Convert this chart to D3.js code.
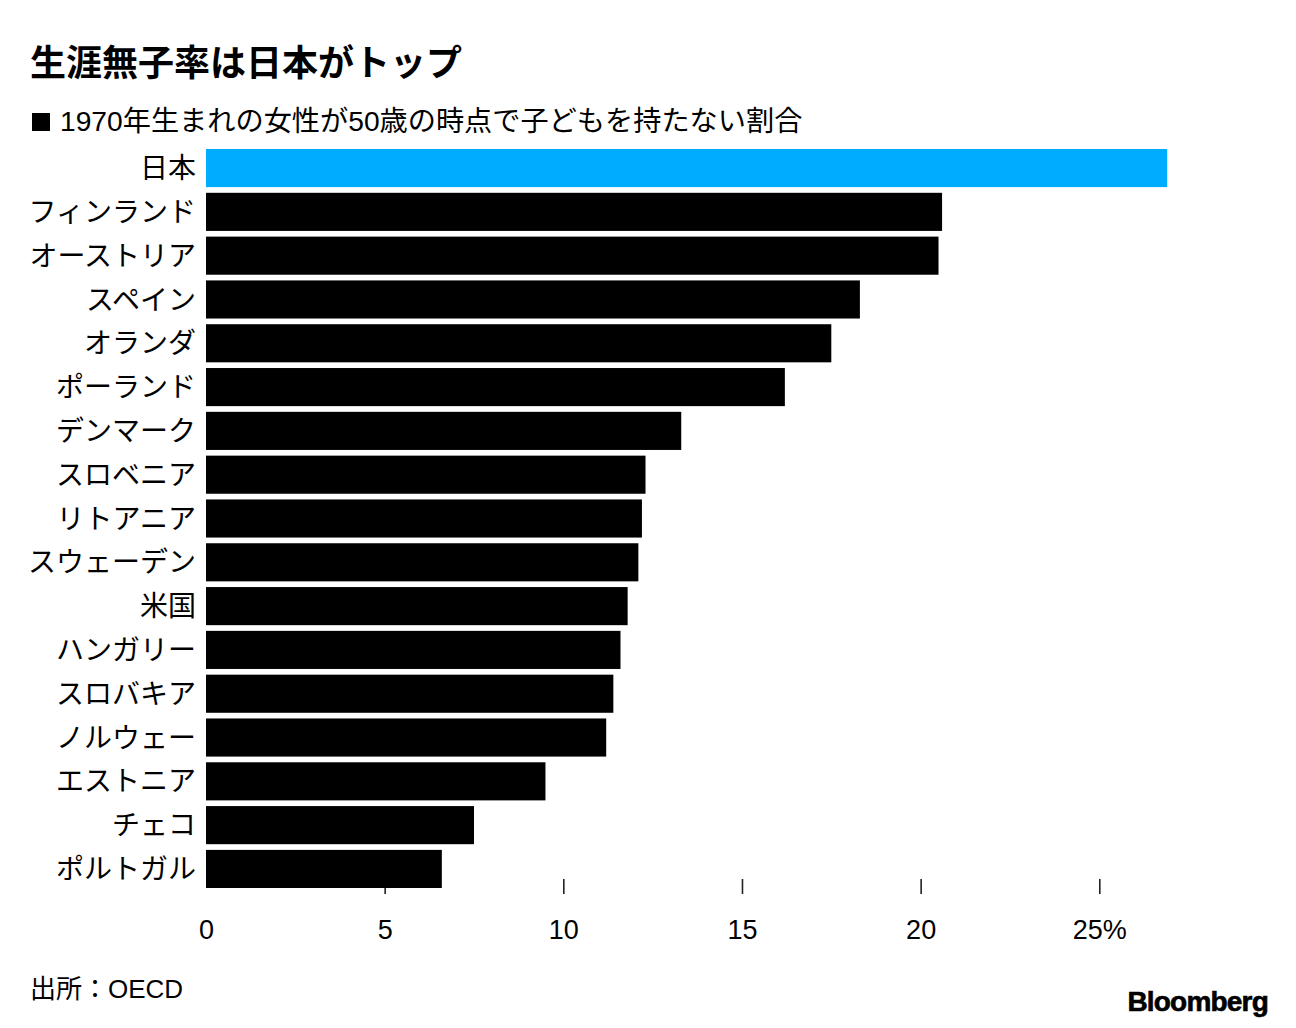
<!DOCTYPE html>
<html>
<head>
<meta charset="utf-8">
<script src="https://cdn.jsdelivr.net/npm/d3@7"></script>
<style>
  body { margin: 0; background: #fff; }
  svg { display: block; font-family: "Liberation Sans", "Noto Sans CJK JP", sans-serif; }
</style>
</head>
<body>
<svg id="chart" width="1296" height="1028"></svg>
<script>
// Countries (top to bottom) and share of childless women at 50, born 1970 (%)
const countries = [
  "日本", "フィンランド", "オーストリア", "スペイン", "オランダ", "ポーランド",
  "デンマーク", "スロベニア", "リトアニア", "スウェーデン", "米国", "ハンガリー",
  "スロバキア", "ノルウェー", "エストニア", "チェコ", "ポルトガル"
];
const values = [26.9, 20.6, 20.5, 18.3, 17.5, 16.2, 13.3, 12.3, 12.2, 12.1, 11.8, 11.6, 11.4, 11.2, 9.5, 7.5, 6.6];
const ticks = [0, 5, 10, 15, 20, 25];

const data = countries.map((c, i) => ({ country: c, value: values[i] }));

const svg = d3.select("#chart");

// Scales
const xScale = d3.scaleLinear().domain([0, 25]).range([206, 1099.3]);

const yScale = d3
  .scaleBand()
  .domain(countries)
  .range([149, 888])
  .paddingInner(0.13)
  .paddingOuter(0);

// Title and subtitle
svg.append("text")
  .attr("x", 30).attr("y", 76)
  .attr("font-size", 36).attr("font-weight", "bold")
  .attr("fill", "#000")
  .text("生涯無子率は日本がトップ");

svg.append("rect")
  .attr("x", 32).attr("y", 113).attr("width", 18).attr("height", 18)
  .attr("fill", "#000");

svg.append("text")
  .attr("x", 60).attr("y", 131)
  .attr("font-size", 28.2)
  .attr("fill", "#000")
  .text("1970年生まれの女性が50歳の時点で子どもを持たない割合");

// X axis (ticks drawn behind bars)
const xAxis = d3.axisBottom(xScale)
  .tickValues(ticks)
  .tickSize(15)
  .tickPadding(26)
  .tickFormat((d) => (d === 25 ? d + "%" : d));

const axisG = svg.append("g")
  .attr("transform", "translate(0, 879)")
  .call(xAxis);

axisG.select(".domain").remove();
axisG.selectAll(".tick line")
  .attr("stroke", "#222")
  .attr("stroke-width", 1.6)
  .attr("display", (d) => (d === 0 ? "none" : null));
axisG.selectAll(".tick text")
  .attr("font-size", 27)
  .attr("font-family", "Liberation Sans, Noto Sans CJK JP, sans-serif")
  .attr("fill", "#000");

// Bars
svg.append("g")
  .selectAll("rect")
  .data(data)
  .join("rect")
  .attr("x", xScale(0))
  .attr("y", (d) => yScale(d.country))
  .attr("width", (d) => xScale(d.value) - xScale(0))
  .attr("height", yScale.bandwidth())
  .attr("fill", (d, i) => (i === 0 ? "#00acff" : "#000"));

// Category labels
svg.append("g")
  .selectAll("text")
  .data(data)
  .join("text")
  .attr("x", 196)
  .attr("y", (d) => yScale(d.country) + yScale.bandwidth() / 2)
  .attr("dy", "0.36em")
  .attr("text-anchor", "end")
  .attr("font-size", 28)
  .attr("fill", "#000")
  .text((d) => d.country);

// Source and logo
svg.append("text")
  .attr("x", 30).attr("y", 998)
  .attr("font-size", 26)
  .attr("fill", "#000")
  .text("出所：OECD");

svg.append("text")
  .attr("x", 1268).attr("y", 1011)
  .attr("text-anchor", "end")
  .attr("font-size", 28).attr("font-weight", "bold")
  .attr("letter-spacing", -0.8)
  .attr("stroke", "#000").attr("stroke-width", 0.6)
  .attr("fill", "#000")
  .text("Bloomberg");
</script>
</body>
</html>
